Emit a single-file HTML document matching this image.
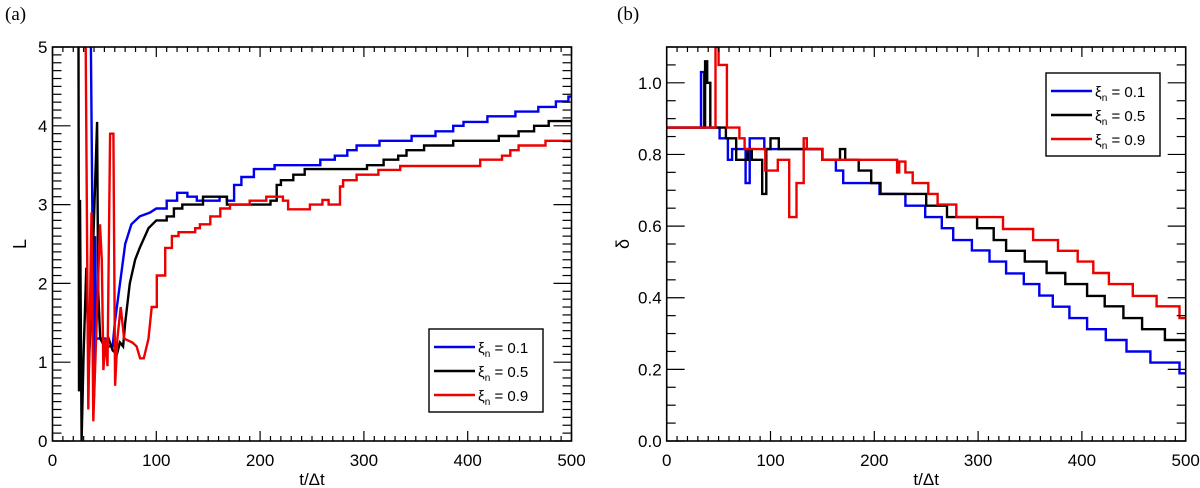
<!DOCTYPE html>
<html><head><meta charset="utf-8"><style>
body{margin:0;background:#fff;}
svg{display:block;font-family:"Liberation Sans",sans-serif;}
</style></head><body>
<svg id="c" width="1200" height="488" viewBox="0 0 1200 488">
<text x="5" y="20" font-family="Liberation Serif" font-size="19">(a)</text>
<text x="617" y="20" font-family="Liberation Serif" font-size="19">(b)</text>
</svg>
<script>
// Panel (a): L vs t
const aBlueT=[36,37,40,41,42,51,53,58,60,65,70,76,84,94,100,110,120,130,139,158,161,168,175,182,194,214,258,272,284,293,315,346,369,386,396,419,446,468,485,497,500];
const aBlueV=[5,5,0.56,2.6,1.3,1.3,1.2,1.2,1.5,2.0,2.5,2.75,2.85,2.9,2.95,3.05,3.15,3.1,3.05,3.05,3.1,3.05,3.25,3.35,3.45,3.5,3.57,3.62,3.69,3.75,3.81,3.87,3.93,4.0,4.05,4.12,4.18,4.24,4.31,4.37,4.37];
const aBlackT=[25,25.5,26.5,28,30,32.6,35,38,43,44,46,50,54,58,62,65,68,70,74.5,79.6,84,92.5,100,110,117,125,142,145,158,168,206,210,216,220,232,243,303,319,333,341,358,386,430,449,464,478,500];
const aBlackV=[5,0.63,3.06,0,1.1,2.2,0.9,2.0,4.05,1.9,1.3,1.2,1.3,1.15,1.1,1.25,1.2,1.5,2.0,2.3,2.45,2.7,2.8,2.85,2.95,3.0,3.0,3.1,3.1,3.0,3.0,3.05,3.25,3.31,3.38,3.45,3.5,3.57,3.62,3.69,3.75,3.81,3.87,3.93,4.0,4.06,4.06];
const aRedT=[32,34.5,37.6,39.3,45.8,47.5,49,51,53,55.5,58.7,60.3,62.5,65.7,69,77,81,84.4,88,92.5,95.6,100.5,108.6,115,121.4,137.5,142,152,161.7,171,190,206,222,227,248,260,266,277,280,293,314,335,412,433,441,449,475,500];
const aRedV=[5,0.4,2.9,0.25,2.75,2.3,0.9,1.3,0.95,3.9,3.9,0.7,1.3,1.7,1.3,1.25,1.2,1.05,1.05,1.3,1.7,2.1,2.45,2.6,2.65,2.7,2.75,2.85,2.95,3.0,3.05,3.1,3.05,2.94,3.0,3.06,3.0,3.23,3.31,3.38,3.44,3.49,3.57,3.62,3.69,3.75,3.81,3.81];
// Panel (b): delta vs t (step series)
const bBlueT=[0,32,33,36,51,59,63,72,76,80,94,150,163,170,205,230,249,265,276,294,311,327,344,359,372,388,405,423,443,466,494,500];
const bBlueV=[0.875,0.875,1.03,0.875,0.845,0.785,0.815,0.815,0.72,0.845,0.815,0.785,0.755,0.72,0.69,0.657,0.625,0.594,0.561,0.532,0.501,0.468,0.438,0.406,0.375,0.343,0.312,0.282,0.25,0.219,0.189,0.189];
const bBlackT=[0,35,37,39,42,57,67,78,82,88,92,96,100,108,150,167,172,175,185,197,206,250,270,299,315,327,345,366,384,405,422,440,458,480,500];
const bBlackV=[0.875,0.875,1.06,1.0,0.875,0.845,0.785,0.815,0.785,0.785,0.69,0.815,0.845,0.815,0.785,0.815,0.785,0.785,0.755,0.72,0.69,0.657,0.625,0.594,0.561,0.531,0.501,0.469,0.438,0.405,0.376,0.343,0.312,0.282,0.282];
const bRedT=[0,45,47,50,58,70,75,77,95,107,113,118,125,132,135,150,220,222,224,230,237,252,261,279,324,353,377,396,411,426,449,472,494,500];
const bRedV=[0.875,0.875,1.1,1.05,0.875,0.845,0.815,0.815,0.755,0.785,0.785,0.625,0.72,0.845,0.815,0.785,0.785,0.75,0.78,0.75,0.72,0.69,0.66,0.625,0.592,0.561,0.531,0.501,0.469,0.438,0.405,0.376,0.343,0.343];
const aYTicks=["0","1","2","3","4","5"];
const bYTicks=["0.0","0.2","0.4","0.6","0.8","1.0"];
const xTicks=["0","100","200","300","400","500"];
const legendLabels=["0.1","0.5","0.9"];

const NS="http://www.w3.org/2000/svg";
const svg=document.getElementById('c');
function mk(tag,attrs,parent){const e=document.createElementNS(NS,tag);for(const k in attrs)e.setAttribute(k,attrs[k]);(parent||svg).appendChild(e);return e;}

function panel(cfg){
  const g=mk('g',{});
  
  
  const sx=t=>cfg.x0+(t/500)*(cfg.x1-cfg.x0);
  const sy=v=>cfg.y1-(v-cfg.ymin)/(cfg.ymax-cfg.ymin)*(cfg.y1-cfg.y0);
  const cp=mk('clipPath',{id:cfg.name+'-clip'},g);
  mk('rect',{x:cfg.x0,y:cfg.y0,width:cfg.x1-cfg.x0,height:cfg.y1-cfg.y0},cp);
  cfg.series.forEach(s=>{
    let pts=[];
    for(let i=0;i<s.t.length;i++){
      if(cfg.step && i>0 && s.t[i]>cfg.stepFrom) pts.push(sx(s.t[i]).toFixed(1)+','+sy(s.v[i-1]).toFixed(1));
      pts.push(sx(s.t[i]).toFixed(1)+','+sy(s.v[i]).toFixed(1));
    }
    const p=mk('polyline',{points:pts.join(' '),fill:'none',stroke:s.c,'stroke-width':2.4,'stroke-linejoin':'miter','clip-path':'url(#'+cfg.name+'-clip)'},g);
    
    
  });
  const fr=mk('rect',{x:cfg.x0,y:cfg.y0,width:cfg.x1-cfg.x0,height:cfg.y1-cfg.y0,fill:'none',stroke:'#000','stroke-width':1.6},g);
  
  
  for(let t=0;t<=500;t+=10){
    const x=sx(t), L=(t%100===0)?10:5;
    mk('line',{x1:x,x2:x,y1:cfg.y1,y2:cfg.y1-L,stroke:'#000','stroke-width':1.2},g);
    mk('line',{x1:x,x2:x,y1:cfg.y0,y2:cfg.y0+L,stroke:'#000','stroke-width':1.2},g);
  }
  xTicks.forEach((lab,i)=>{
    const tx=mk('text',{x:sx(+lab),y:cfg.y1+25,'text-anchor':'middle','font-size':17},g);
    tx.textContent=lab;
    
    
  });
  const nMin=Math.round((cfg.ymax-cfg.ymin)/cfg.minor);
  for(let k=0;k<=nMin;k++){
    const v=cfg.ymin+k*cfg.minor, y=sy(v);
    const major=Math.abs(v/cfg.major-Math.round(v/cfg.major))<1e-6;
    const L=major?18:9;
    mk('line',{x1:cfg.x0,x2:cfg.x0+L,y1:y,y2:y,stroke:'#000','stroke-width':1.2},g);
    mk('line',{x1:cfg.x1,x2:cfg.x1-L,y1:y,y2:y,stroke:'#000','stroke-width':1.2},g);
  }
  cfg.yTicks.forEach(lab=>{
    const tx=mk('text',{x:cfg.x0-5,y:sy(+lab)+6,'text-anchor':'end','font-size':17},g);
    tx.textContent=lab;
    
    
  });
  const xt=mk('text',{x:(cfg.x0+cfg.x1)/2,y:485,'text-anchor':'middle','font-size':17},g);
  xt.textContent='t/Δt';
  
  
  const yt=mk('text',{x:0,y:0,'text-anchor':'middle','font-size':18,transform:'translate('+cfg.ytx+',244) rotate(-90)'},g);
  yt.textContent=cfg.ylabel;
  
  
  const lg=mk('g',{},g);
  
  
  mk('rect',{x:cfg.lx,y:cfg.ly,width:114,height:83,fill:'#fff',stroke:'#000','stroke-width':1.4},lg);
  cfg.series.forEach((s,i)=>{
    const y=cfg.ly+18+i*24;
    const e=mk('g',{},lg);
    
    
    mk('line',{x1:cfg.lx+5,x2:cfg.lx+46,y1:y,y2:y,stroke:s.c,'stroke-width':2.4},e);
    const tx=mk('text',{x:cfg.lx+49,y:y+6,'font-size':15},e);
    tx.innerHTML='ξ<tspan font-size="10" dy="4">n</tspan><tspan dy="-4"> = '+legendLabels[i]+'</tspan>';
  });
}

panel({name:'panel-a',x0:52.5,x1:571.5,y0:47,y1:441,ymin:0,ymax:5,minor:0.1,major:1,yTicks:aYTicks,ylabel:'L',ytx:26,step:true,stepFrom:100,lx:429,ly:329,
  series:[{t:aBlueT,v:aBlueV,c:'#0000ee',n:'series-xi-0.1'},{t:aBlackT,v:aBlackV,c:'#000',n:'series-xi-0.5'},{t:aRedT,v:aRedV,c:'#ee0000',n:'series-xi-0.9'}]});
panel({name:'panel-b',x0:666.7,x1:1185.7,y0:47,y1:441,ymin:0,ymax:1.1,minor:0.05,major:0.2,yTicks:bYTicks,ylabel:'δ',ytx:629,step:true,stepFrom:0,lx:1046,ly:73,
  series:[{t:bBlueT,v:bBlueV,c:'#0000ee',n:'series-xi-0.1'},{t:bBlackT,v:bBlackV,c:'#000',n:'series-xi-0.5'},{t:bRedT,v:bRedV,c:'#ee0000',n:'series-xi-0.9'}]});
</script>
</body></html>
